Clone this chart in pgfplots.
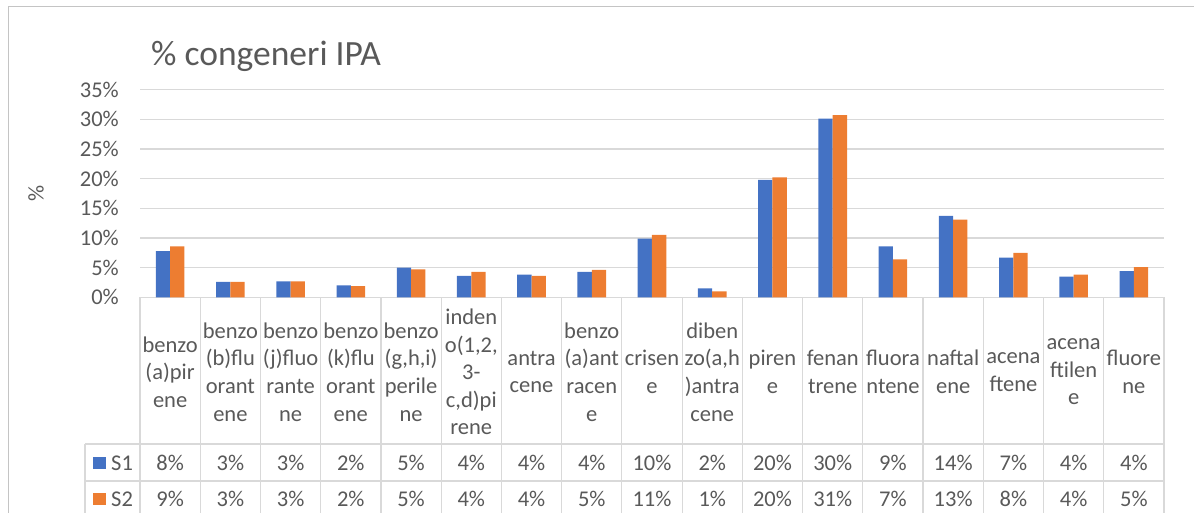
\documentclass[border=0pt]{standalone}
\usepackage{fontspec}
\setmainfont{Carlito}
\usepackage{pgfplots}
\pgfplotsset{compat=1.18}
\definecolor{sA}{HTML}{4472C4}
\definecolor{sB}{HTML}{ED7D31}
\definecolor{txt}{HTML}{595959}
\definecolor{grd}{HTML}{D9D9D9}
\definecolor{frm}{HTML}{C4C4C4}
\begin{document}
\begin{tikzpicture}[x=1pt,y=1pt,font=\fontsize{22.5}{27.6}\selectfont]
\useasboundingbox (0,0) rectangle (1194,513);
\draw[frm, line width=1.3pt] (8.5,-5) -- (8.5,506.5) -- (1200,506.5);
\node[anchor=base west, inner sep=0pt, text=txt, font=\fontsize{35.5}{40}\selectfont] at (151,447) {\% congeneri IPA};
\node[rotate=90, inner sep=0pt, text=txt] at (36,320) {\%};
\begin{axis}[at={(140pt,215.7pt)}, anchor=south west, scale only axis,
  width=1024pt, height=207.7pt,
  xmin=-0.5, xmax=16.5, ymin=0, ymax=35,
  ytick={0,5,...,35}, xtick=\empty,
  ymajorgrids, grid style={grd, line width=1.2pt},
  axis line style={draw=none}, major tick length=0pt,
  yticklabel={\pgfmathprintnumber{\tick}\%},
  /pgf/number format/assume math mode=true,
  yticklabel style={inner sep=0pt, xshift=-21pt, text=txt},
  ybar=0pt, bar width=14.3pt, clip=false]
\addplot[fill=sA, draw=none] coordinates {(0,7.8) (1,2.6) (2,2.7) (3,2.0) (4,5.0) (5,3.6) (6,3.8) (7,4.3) (8,9.9) (9,1.5) (10,19.8) (11,30.1) (12,8.6) (13,13.7) (14,6.7) (15,3.5) (16,4.4)};
\addplot[fill=sB, draw=none] coordinates {(0,8.6) (1,2.6) (2,2.7) (3,1.9) (4,4.7) (5,4.3) (6,3.6) (7,4.6) (8,10.5) (9,1.0) (10,20.2) (11,30.7) (12,6.4) (13,13.1) (14,7.5) (15,3.8) (16,5.1)};
\end{axis}
% data table
\foreach \k in {0,...,17} \draw[grd, line width=1.2pt] (140+60.235*\k,215.7) -- (140+60.235*\k,-5);
\draw[grd, line width=1.2pt] (85,69) -- (1164,69);
\draw[grd, line width=1.2pt] (85,32) -- (1164,32);
\draw[grd, line width=1.2pt] (85,69) -- (85,-5);
\foreach \lab [count=\i from 0] in {{benzo\\(a)pir\\ene},{benzo\\(b)flu\\orant\\ene},{benzo\\(j)fluo\\rante\\ne},{benzo\\(k)flu\\orant\\ene},{benzo\\(g,h,i)\\perile\\ne},{inden\\o(1,2,\\3-\\c,d)pi\\rene},{antra\\cene},{benzo\\(a)ant\\racen\\e},{crisen\\e},{diben\\zo(a,h\\)antra\\cene},{piren\\e},{fenan\\trene},{fluora\\ntene},{naftal\\ene},{acena\\ftene},{acena\\ftilen\\e},{fluore\\ne}}
  \node[align=center, inner sep=0pt, text=txt] at (170.12+60.235*\i,141) {\lab};
\foreach \v [count=\i from 0] in {8,3,3,2,5,4,4,4,10,2,20,30,9,14,7,4,4}
  \node[inner sep=0pt, text=txt] at (170.12+60.235*\i,50) {\v\%};
\foreach \v [count=\i from 0] in {9,3,3,2,5,4,4,5,11,1,20,31,7,13,8,4,5}
  \node[inner sep=0pt, text=txt] at (170.12+60.235*\i,14) {\v\%};
\fill[sA] (93.3,44) rectangle (105.6,56.3);
\node[anchor=west, inner sep=0pt, text=txt] at (111,50) {S1};
\fill[sB] (93.3,8) rectangle (105.6,20.3);
\node[anchor=west, inner sep=0pt, text=txt] at (111,14) {S2};
\end{tikzpicture}
\end{document}
